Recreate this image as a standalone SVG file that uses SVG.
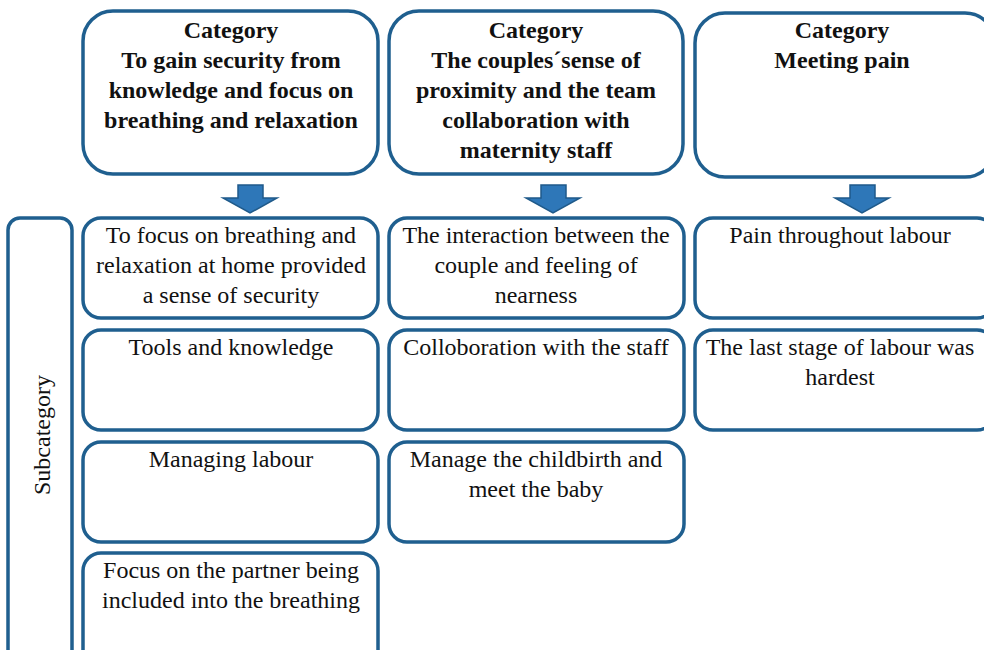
<svg xmlns="http://www.w3.org/2000/svg" width="984" height="650" viewBox="0 0 984 650">
<style>
.box{fill:#fff;stroke:#1f5f8f;stroke-width:3.5}
.arr{fill:#2e77b8;stroke:#1f5a8a;stroke-width:1.5}
.t{font-family:"Liberation Serif","Times New Roman",serif;font-size:24px;font-weight:bold;fill:#111;text-anchor:middle}
.s{font-family:"Liberation Serif","Times New Roman",serif;font-size:24px;fill:#111;text-anchor:middle}
</style>
<rect width="984" height="650" fill="#fff"/>
<g id="cat1"><rect class="box" x="83" y="11" width="295" height="163" rx="30"/>
<text class="t" x="231" y="38">Category</text><text class="t" x="231" y="68">To gain security from</text><text class="t" x="231" y="98">knowledge and focus on</text><text class="t" x="231" y="128">breathing and relaxation</text></g>
<g id="cat2"><rect class="box" x="389" y="11" width="294" height="163" rx="30"/>
<text class="t" x="536" y="38">Category</text><text class="t" x="536" y="68">The couples´sense of</text><text class="t" x="536" y="98">proximity and the team</text><text class="t" x="536" y="128">collaboration with</text><text class="t" x="536" y="158">maternity staff</text></g>
<g id="cat3"><rect class="box" x="695" y="13" width="300" height="164" rx="30"/>
<text class="t" x="842" y="38">Category</text><text class="t" x="842" y="68">Meeting pain</text></g>
<g id="connectors">
<path class="arr" d="M238,185 H263 V198 H277 L250,213 L223,198 H238 Z"/>
<path class="arr" d="M541,185 H566 V198 H580 L553,213 L526,198 H541 Z"/>
<path class="arr" d="M850,185 H875 V198 H889 L862,213 L835,198 H850 Z"/>
</g>
<g id="subcat"><rect class="box" x="8" y="218" width="64" height="450" rx="12"/>
<text class="s" transform="translate(50,435) rotate(-90)">Subcategory</text></g>
<g id="s11"><rect class="box" x="83" y="218" width="295" height="100" rx="18"/>
<text class="s" x="231" y="243">To focus on breathing and</text><text class="s" x="231" y="273">relaxation at home provided</text><text class="s" x="231" y="303">a sense of security</text></g>
<g id="s12"><rect class="box" x="83" y="330" width="295" height="100" rx="18"/>
<text class="s" x="231" y="355">Tools and knowledge</text></g>
<g id="s13"><rect class="box" x="83" y="442" width="295" height="100" rx="18"/>
<text class="s" x="231" y="467">Managing labour</text></g>
<g id="s14"><rect class="box" x="83" y="553" width="295" height="120" rx="18"/>
<text class="s" x="231" y="578">Focus on the partner being</text><text class="s" x="231" y="608">included into the breathing</text></g>
<g id="s21"><rect class="box" x="389" y="218" width="295" height="100" rx="18"/>
<text class="s" x="536" y="243">The interaction between the</text><text class="s" x="536" y="273">couple and feeling of</text><text class="s" x="536" y="303">nearness</text></g>
<g id="s22"><rect class="box" x="389" y="330" width="295" height="100" rx="18"/>
<text class="s" x="536" y="355">Colloboration with the staff</text></g>
<g id="s23"><rect class="box" x="389" y="442" width="295" height="100" rx="18"/>
<text class="s" x="536" y="467">Manage the childbirth and</text><text class="s" x="536" y="497">meet the baby</text></g>
<g id="s31"><rect class="box" x="695" y="218" width="300" height="100" rx="18"/>
<text class="s" x="840" y="243">Pain throughout labour</text></g>
<g id="s32"><rect class="box" x="695" y="330" width="300" height="100" rx="18"/>
<text class="s" x="840" y="355">The last stage of labour was</text><text class="s" x="840" y="385">hardest</text></g>
</svg>
